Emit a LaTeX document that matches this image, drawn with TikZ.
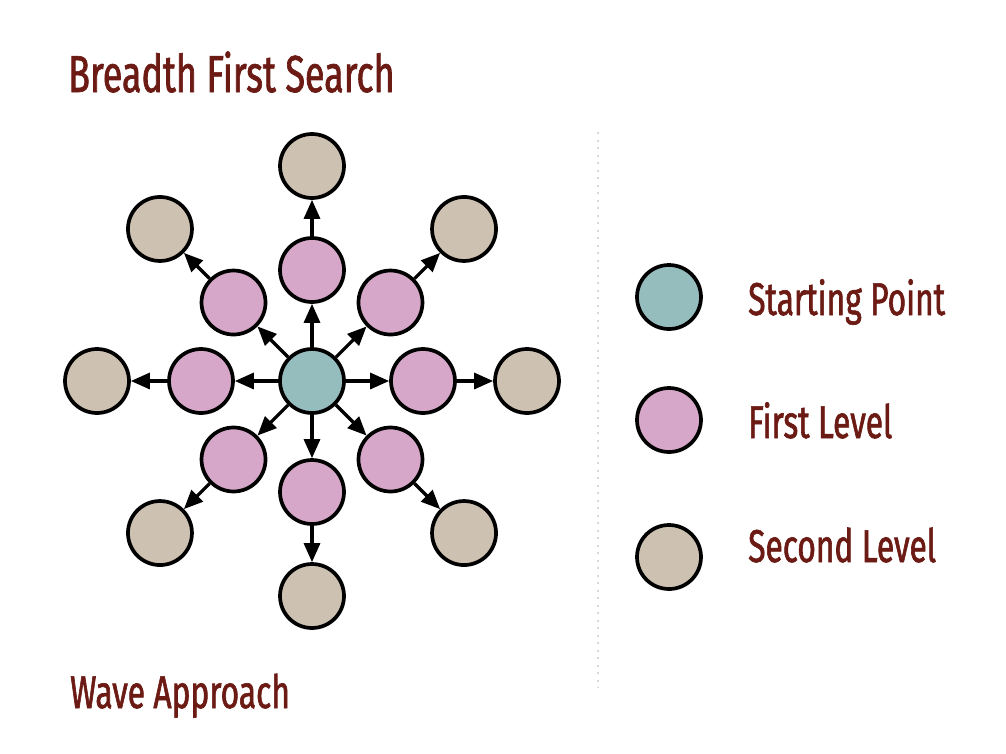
\documentclass[tikz,border=0pt]{standalone}
\usepackage{fontspec}
\usetikzlibrary{arrows.meta,calc}
\newfontfamily\labelfont[FakeStretch=0.69,FakeBold=1.3]{Fira Sans}
\definecolor{startcol}{RGB}{150,189,190}
\definecolor{firstcol}{RGB}{214,167,200}
\definecolor{secondcol}{RGB}{205,193,178}
\definecolor{textcol}{RGB}{108,26,20}
\definecolor{dotcol}{RGB}{215,215,215}
\begin{document}
\begin{tikzpicture}[x=1pt,y=-1pt,
  vertex/.style={circle,draw=black,line width=3.7pt,minimum size=64pt,inner sep=0pt},
  start/.style={vertex,fill=startcol},
  firstlvl/.style={vertex,fill=firstcol},
  secondlvl/.style={vertex,fill=secondcol},
  edge/.style={line width=3.2pt,-{Triangle[length=19pt,width=16pt]}},
  heading/.style={anchor=base west,inner sep=0pt,text=textcol,font=\labelfont\fontsize{52}{60}\selectfont},
  legendtext/.style={anchor=base west,inner sep=0pt,text=textcol,font=\labelfont\fontsize{46}{54}\selectfont}]
\path[use as bounding box, fill=white] (0,0) rectangle (1006,753);

% headings
\node[heading] (title) at (68,92) {Breadth First Search};
\node[legendtext] (wave) at (70,708) {Wave Approach};

% separator
\draw[dotcol, line width=2pt, dash pattern=on 2pt off 5.5pt] (598,132) -- (598,688);

% the search graph: start node, first ring, second ring
\node[start] (s) at (312,381) {};
\foreach \a in {0,45,...,315} {
  \node[firstlvl] (p\a) at ($(s)+(\a:111)$) {};
  \node[secondlvl] (g\a) at ($(s)+(\a:215)$) {};
  \draw[edge] (s) -- (p\a);
  \draw[edge] (p\a) -- (g\a);
}

% legend
\node[start] (ls) at (669,297) {};
\node[firstlvl] (lf) at (669,420) {};
\node[secondlvl] (lg) at (669,557) {};
\node[legendtext] (ts) at (748,315) {Starting Point};
\node[legendtext] (tf) at (748,438) {First Level};
\node[legendtext] (tg) at (748,562) {Second Level};
\end{tikzpicture}
\end{document}
